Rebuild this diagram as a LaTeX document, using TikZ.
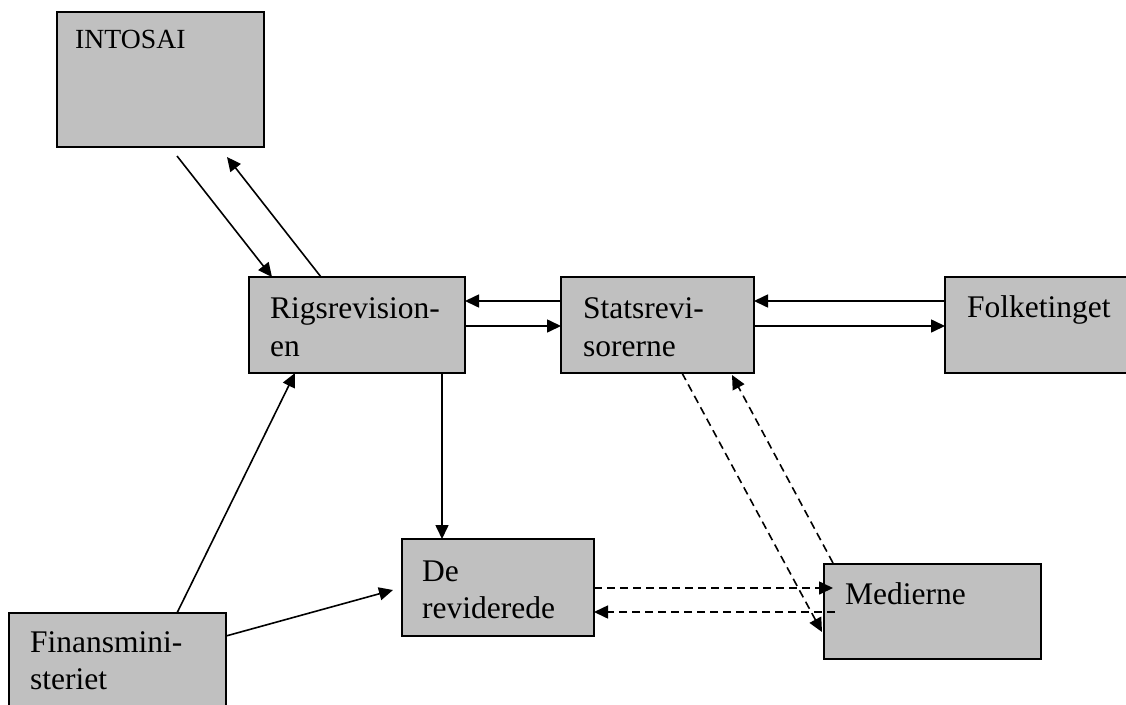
\documentclass[tikz,border=0pt]{standalone}
\usepackage{fontspec}
\setmainfont{Liberation Serif}
\usetikzlibrary{arrows.meta,calc}
\definecolor{boxgray}{HTML}{C0C0C0}
\begin{document}
\begin{tikzpicture}[x=1pt,y=-1pt,
  box/.style={draw=black, line width=1.9pt, fill=boxgray, rectangle, inner sep=0pt, outer sep=0pt, anchor=north west},
  lbl/.style={anchor=base west, inner sep=0pt, font=\fontsize{31.5}{37.5}\selectfont},
  smalllbl/.style={anchor=base west, inner sep=0pt, font=\fontsize{27.7}{33}\selectfont},
  conn/.style={line width=1.6pt, -{Triangle[length=14pt,width=13pt]}},
  dconn/.style={conn, dash pattern=on 8pt off 5pt}]
\clip (0,0) rectangle (1126,704);
\fill[white] (0,0) rectangle (1126,704);

% boxes
\node[box, minimum width=207pt, minimum height=135pt] (intosai) at (57,12) {};
\node[box, minimum width=216pt, minimum height=96pt] (rigs) at (249,277) {};
\node[box, minimum width=193pt, minimum height=96pt] (stats) at (561,277) {};
\node[box, minimum width=200pt, minimum height=96pt] (folk) at (945,277) {};
\node[box, minimum width=192pt, minimum height=97pt] (de) at (402,539) {};
\node[box, minimum width=217pt, minimum height=95pt] (med) at (824,564) {};
\node[box, minimum width=217pt, minimum height=110pt] (fin) at (9,613) {};

% labels
\node[smalllbl] (tintosai) at ($(intosai.north west)+(18,36)$) {INTOSAI};
\node[lbl] (trigs) at ($(rigs.north west)+(21,41.5)$) {\begin{tabular}[t]{@{}l@{}}Rigsrevision-\\en\end{tabular}};
\node[lbl] (tstats) at ($(stats.north west)+(22,41.5)$) {\begin{tabular}[t]{@{}l@{}}Statsrevi-\\sorerne\end{tabular}};
\node[lbl] (tfolk) at ($(folk.north west)+(22,40)$) {Folketinget};
\node[lbl] (tde) at ($(de.north west)+(20,42)$) {\begin{tabular}[t]{@{}l@{}}De\\reviderede\end{tabular}};
\node[lbl] (tmed) at ($(med.north west)+(21,40)$) {Medierne};
\node[lbl] (tfin) at ($(fin.north west)+(21,39)$) {\begin{tabular}[t]{@{}l@{}}Finansmini-\\steriet\end{tabular}};

% solid connectors
\draw[conn] ($(intosai.south west)+(120,9)$) -- ($(rigs.north west)+(23,0)$);
\draw[conn] ($(rigs.north west)+(72,0)$) -- ($(intosai.south west)+(170,10)$);
\draw[conn] ($(stats.north west)+(0,24)$) -- ($(rigs.north east)+(0,24)$);
\draw[conn] ($(rigs.north east)+(0,49)$) -- ($(stats.north west)+(0,49)$);
\draw[conn] ($(folk.north west)+(0,24)$) -- ($(stats.north east)+(0,24)$);
\draw[conn] ($(stats.north east)+(0,49)$) -- ($(folk.north west)+(0,49)$);
\draw[conn] ($(rigs.south west)+(193,0)$) -- ($(de.north west)+(40,0)$);
\draw[conn] ($(fin.north west)+(168,0)$) -- ($(rigs.south west)+(46,0)$);
\draw[conn] ($(fin.north east)+(0,23)$) -- ($(de.north west)+(-9,51)$);

% dashed connectors
\draw[dconn] ($(de.north east)+(0,49)$) -- ($(med.north west)+(9,24)$);
\draw[dconn] ($(med.north west)+(11,48)$) -- ($(de.north east)+(0,73)$);
\draw[dconn] ($(stats.south west)+(121,0)$) -- ($(med.north west)+(-2,68)$);
\draw[dconn] ($(med.north west)+(9,-1)$) -- ($(stats.south west)+(171,2)$);
\end{tikzpicture}
\end{document}
